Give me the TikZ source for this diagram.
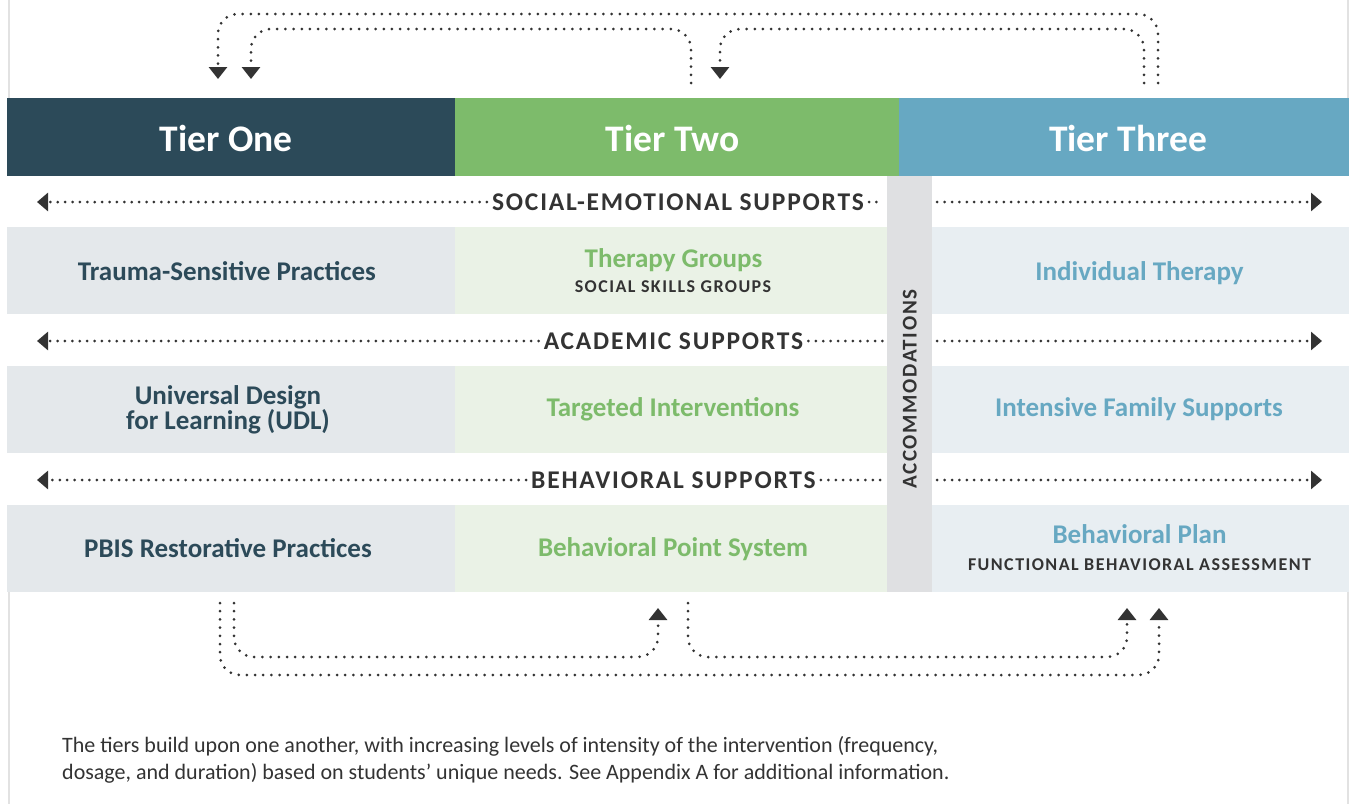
\documentclass[tikz,border=0pt]{standalone}
\usepackage{fontspec}
\setmainfont{Carlito}
\newfontfamily\spacedfont{Carlito}[LetterSpace=7]
\newfontfamily\smallcapsfont{Carlito}[LetterSpace=8]
\usetikzlibrary{arrows.meta,calc}

\definecolor{tierone}{HTML}{2C4A59}
\definecolor{tiertwo}{HTML}{7DBB6B}
\definecolor{tierthree}{HTML}{67A8C2}
\definecolor{cellone}{HTML}{E4E8EB}
\definecolor{celltwo}{HTML}{EAF2E6}
\definecolor{cellthree}{HTML}{E8EEF2}
\definecolor{accom}{HTML}{DFE0E2}
\definecolor{ink}{HTML}{333333}
\definecolor{framegray}{HTML}{E2E2E2}

% text nodes are centred on the middle of their capital letters
\tikzset{
  header/.style={minimum height=78pt, inner sep=0pt, draw=none},
  headtext/.style={text=white, inner sep=0pt, text height=23.7pt, text depth=0pt,
    font=\fontsize{37.5}{42}\selectfont\bfseries},
  cell/.style={minimum height=87pt, inner sep=0pt, draw=none},
  item/.style={inner sep=0pt, text height=17.06pt, text depth=0pt,
    font=\fontsize{27}{31}\selectfont\bfseries},
  subitem/.style={inner sep=0pt, text height=11.38pt, text depth=0pt, text=ink,
    font=\smallcapsfont\fontsize{18}{21}\selectfont\bfseries},
  columnlabel/.style={inner sep=0pt, text height=13.27pt, text depth=0pt, text=ink,
    font=\smallcapsfont\fontsize{21}{24}\selectfont\bfseries},
  lane/.style={inner xsep=5pt, inner ysep=0pt, text height=16.1pt, text depth=0pt, text=ink,
    font=\spacedfont\fontsize{25.5}{29}\selectfont\bfseries},
  note/.style={anchor=base west, inner sep=0pt, text=ink, font=\fontsize{22}{27}\selectfont},
  dotline/.style={draw=ink, line width=3pt, line cap=round, dash pattern=on 0pt off 7.4pt},
  flow/.style={draw=ink, line width=3pt, line cap=round, dash pattern=on 0pt off 8.2pt,
    rounded corners=20pt},
  headtip/.style={-{Triangle[length=12pt,width=18pt]}},
  sidetip/.style={-{Triangle[length=11pt,width=18pt]}},
}

\begin{document}
\begin{tikzpicture}[x=1pt,y=-1pt]
  \useasboundingbox (0,0) rectangle (1349,804);

  % thin side rules of the panel
  \draw[framegray, line width=2pt] (8.5,0) -- (8.5,98) (8.5,592) -- (8.5,804);
  \draw[framegray, line width=2pt] (1347.5,0) -- (1347.5,98) (1347.5,592) -- (1347.5,804);

  % tier headers
  \node[header, fill=tierone,   minimum width=448pt] (tier1) at (231,137) {};
  \node[header, fill=tiertwo,   minimum width=444pt] (tier2) at (677,137) {};
  \node[header, fill=tierthree, minimum width=450pt] (tier3) at (1124,137) {};
  \node[headtext] (tier1t) at (226,140) {Tier One};
  \node[headtext] (tier2t) at (672.5,140) {Tier Two};
  \node[headtext] (tier3t) at (1128,140) {Tier Three};

  % cells, three rows by three tiers
  \node[cell, fill=cellone,   minimum width=448pt] (c11) at (231,270.5) {};
  \node[cell, fill=celltwo,   minimum width=432pt] (c12) at (671,270.5) {};
  \node[cell, fill=cellthree, minimum width=417pt] (c13) at (1140.5,270.5) {};
  \node[cell, fill=cellone,   minimum width=448pt] (c21) at (231,409.5) {};
  \node[cell, fill=celltwo,   minimum width=432pt] (c22) at (671,409.5) {};
  \node[cell, fill=cellthree, minimum width=417pt] (c23) at (1140.5,409.5) {};
  \node[cell, fill=cellone,   minimum width=448pt] (c31) at (231,548.5) {};
  \node[cell, fill=celltwo,   minimum width=432pt] (c32) at (671,548.5) {};
  \node[cell, fill=cellthree, minimum width=417pt] (c33) at (1140.5,548.5) {};

  % accommodations column
  \node[fill=accom, minimum width=45pt, minimum height=416pt, inner sep=0pt] (accom) at (909.5,384) {};
  \node[columnlabel, rotate=90] (accomt) at (910,389) {ACCOMMODATIONS};

  % cell texts
  \node[item, text=tierone] (t11) at (227,272) {Trauma-Sensitive Practices};
  \node[item, text=tiertwo] (t12) at (673.5,259) {Therapy Groups};
  \node[subitem] (s12) at (673,287) {SOCIAL SKILLS GROUPS};
  \node[item, text=tierthree] (t13) at (1139.5,272) {Individual Therapy};

  \node[item, text=tierone] (t21a) at (228,396) {Universal Design};
  \node[item, text=tierone] (t21b) at (228,421) {for Learning (UDL)};
  \node[item, text=tiertwo] (t22) at (673,408) {Targeted Interventions};
  \node[item, text=tierthree] (t23) at (1139,408) {Intensive Family Supports};

  \node[item, text=tierone] (t31) at (228,549) {PBIS Restorative Practices};
  \node[item, text=tiertwo] (t32) at (673,548) {Behavioral Point System};
  \node[item, text=tierthree] (t33) at (1139.5,535) {Behavioral Plan};
  \node[subitem] (s33) at (1139.5,565) {FUNCTIONAL BEHAVIORAL ASSESSMENT};

  % support lanes
  \node[lane] (lane1) at (678,202) {SOCIAL-EMOTIONAL SUPPORTS};
  \node[lane] (lane2) at (673.5,341) {ACADEMIC SUPPORTS};
  \node[lane] (lane3) at (673.5,480) {BEHAVIORAL SUPPORTS};
  \foreach \n/\y in {1/202,2/341,3/480}{
    \coordinate (lw\n) at (37,\y);
    \coordinate (le\n) at (1322,\y);
    \draw[dotline, sidetip] (lane\n.west) -- (lw\n);
    \draw[dotline] (lane\n.east) -- ($(accom.west |- lane\n)+(-3,0)$);
    \draw[dotline, sidetip] ($(accom.east |- lane\n)+(5,0)$) -- (le\n);
  }

  % hand-offs drawn above the headers
  \coordinate (hiA) at (0,14);
  \coordinate (hiB) at (0,29);
  \coordinate (f3o) at (1158,83);
  \coordinate (f3i) at (1144,83);
  \coordinate (f2t) at (691,83);
  \coordinate (to1o) at (218,79);
  \coordinate (to1i) at (251,79);
  \coordinate (to2t) at (720,79);
  \draw[flow, headtip] (f3o) -- (f3o |- hiA) -- (to1o |- hiA) -- (to1o);
  \draw[flow, headtip] (f2t) -- (f2t |- hiB) -- (to1i |- hiB) -- (to1i);
  \draw[flow, headtip] (f3i) -- (f3i |- hiB) -- (to2t |- hiB) -- (to2t);

  % hand-offs drawn below the rows
  \coordinate (loA) at (0,675);
  \coordinate (loB) at (0,657);
  \coordinate (f1o) at (220,603);
  \coordinate (f1i) at (234,603);
  \coordinate (f2b) at (688,603);
  \coordinate (to3o) at (1159,608);
  \coordinate (to3i) at (1127,608);
  \coordinate (to2b) at (658,608);
  \draw[flow, headtip] (f1o) -- (f1o |- loA) -- (to3o |- loA) -- (to3o);
  \draw[flow, headtip] (f1i) -- (f1i |- loB) -- (to2b |- loB) -- (to2b);
  \draw[flow, headtip] (f2b) -- (f2b |- loB) -- (to3i |- loB) -- (to3i);

  % footnote
  \node[note] (note1) at (62,752) {The tiers build upon one another, with increasing levels of intensity of the intervention (frequency,};
  \node[note] (note2) at (62,779) {dosage, and duration) based on students’ unique needs. See Appendix A for additional information.};
\end{tikzpicture}
\end{document}
